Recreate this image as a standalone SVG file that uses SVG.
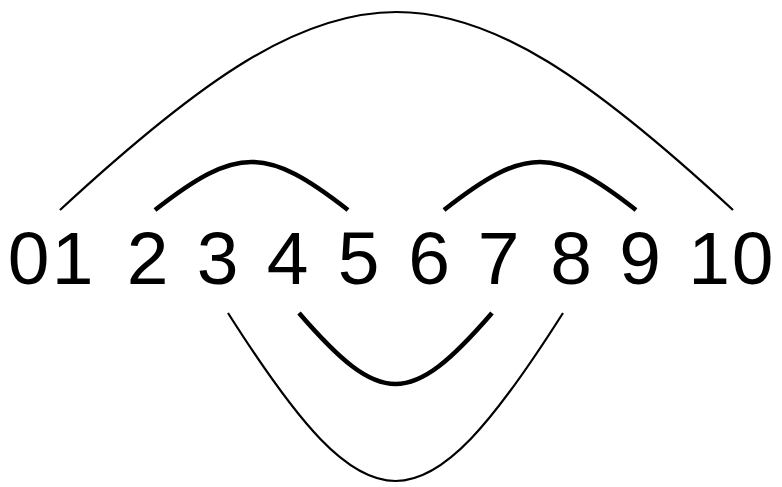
<svg xmlns="http://www.w3.org/2000/svg" width="782" height="487" viewBox="0 0 782 487">
<style>
  .d { font-family: "Liberation Sans", Arial, sans-serif; font-size: 75px; fill: #000; text-anchor: middle; }
  .thin { fill: none; stroke: #000; stroke-width: 2.2; }
  .thick { fill: none; stroke: #000; stroke-width: 4.6; }
</style>
<rect width="782" height="487" fill="#fff"/>
<g id="connectors">
  <path class="thin" d="M60 210 C345.6 -54 447.4 -54 733 210"/>
  <path class="thick" d="M155 210 C236.9 146 266.1 146 348 210"/>
  <path class="thick" d="M444 210 C525.5 146 554.5 146 636 210"/>
  <path class="thick" d="M299 313 C380.9 407.7 410.1 407.7 492 313"/>
  <path class="thin" d="M228 313 C370.2 537 420.8 537 563 313"/>
</g>
<g id="n0"><text class="d" x="28.5" y="284">0</text></g>
<g id="n1"><text class="d" x="72.5" y="284">1</text></g>
<g id="n2"><text class="d" x="147.5" y="284">2</text></g>
<g id="n3"><text class="d" x="217.5" y="284">3</text></g>
<g id="n4"><text class="d" x="287.5" y="284">4</text></g>
<g id="n5"><text class="d" x="358.5" y="284">5</text></g>
<g id="n6"><text class="d" x="429" y="284">6</text></g>
<g id="n7"><text class="d" x="498.5" y="284">7</text></g>
<g id="n8"><text class="d" x="571" y="284">8</text></g>
<g id="n9"><text class="d" x="640" y="284">9</text></g>
<g id="n10"><text class="d" y="284"><tspan x="709">1</tspan><tspan x="752.5">0</tspan></text></g>
</svg>
